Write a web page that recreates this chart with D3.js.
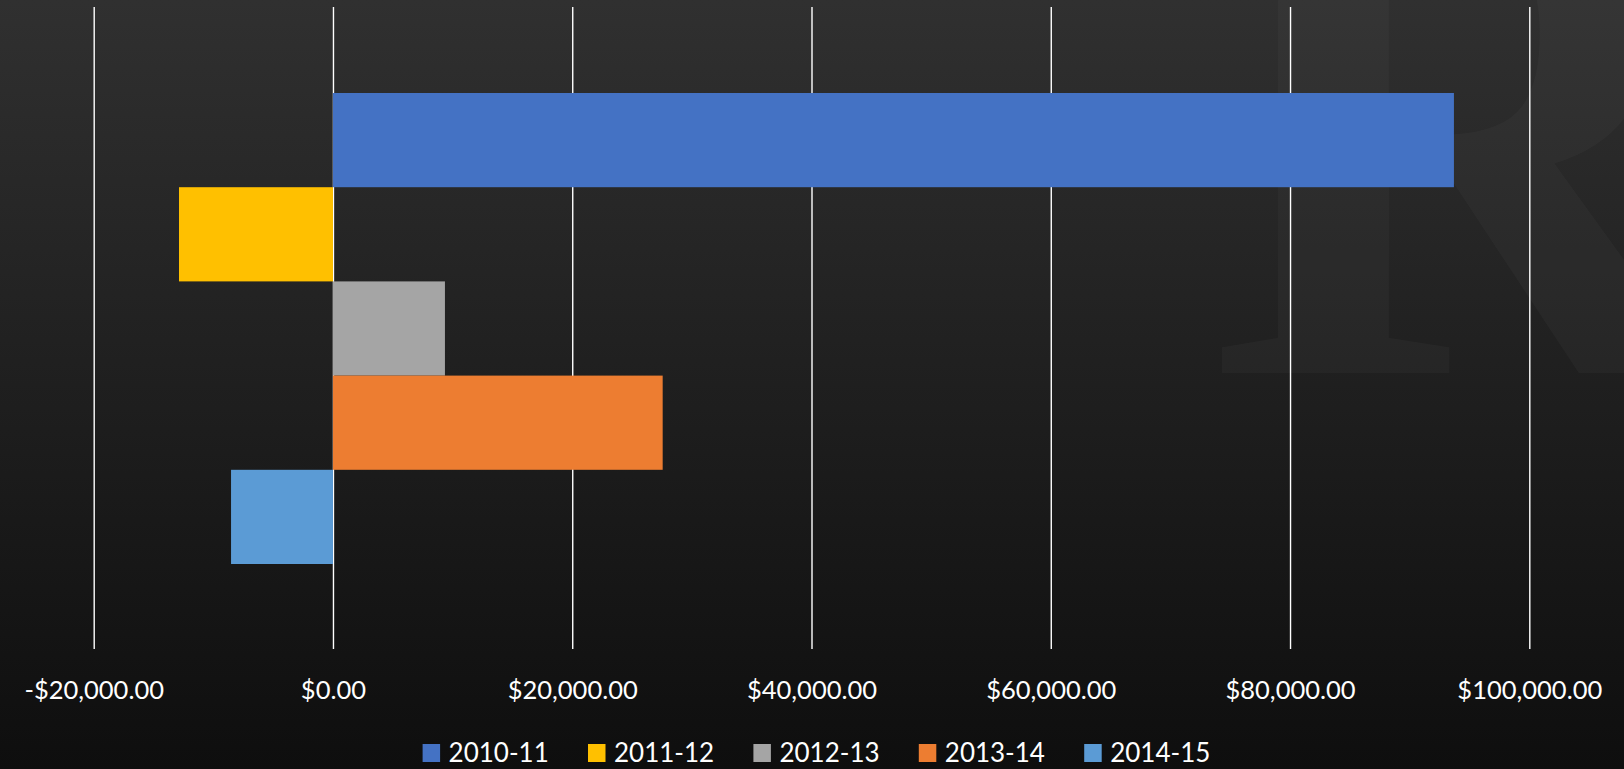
<!DOCTYPE html>
<html>
<head>
<meta charset="utf-8">
<script src="https://cdn.jsdelivr.net/npm/d3@7"></script>
<style>
  html, body { margin: 0; padding: 0; background: #111; }
  svg { display: block; }
</style>
</head>
<body>
<div id="chart"></div>
<script>
// chart data
const seriesNames = ["2010-11", "2011-12", "2012-13", "2013-14", "2014-15"];
const seriesValues = [93700, -12870, 9360, 27560, -8520];
const seriesColors = ["#4472C4", "#FFC000", "#A5A5A5", "#ED7D31", "#5B9BD5"];
const tickValues = [-20000, 0, 20000, 40000, 60000, 80000, 100000];

const W = 1624, H = 769;
const plot = { left: 93.7, right: 1529.3, top: 7, bottom: 649 };

let svg = d3.select("#chart")
    .append("svg")
    .attr("width", W)
    .attr("height", H);

// background gradient
let defs = svg.append("defs");
let grad = defs.append("linearGradient")
    .attr("id", "bg")
    .attr("x1", 0).attr("y1", 0)
    .attr("x2", 0).attr("y2", 1);
grad.append("stop").attr("offset", "0%").attr("stop-color", "#303030");
grad.append("stop").attr("offset", "100%").attr("stop-color", "#0e0e0e");

svg.append("rect")
    .attr("width", W)
    .attr("height", H)
    .attr("fill", "url(#bg)");

// faint watermark letter
svg.append("text")
    .attr("x", 1205)
    .attr("y", 373)
    .attr("font-family", "'Liberation Serif', 'DejaVu Serif', serif")
    .attr("font-weight", "bold")
    .attr("font-size", "720px")
    .attr("fill", "#ffffff")
    .attr("fill-opacity", 0.026)
    .text("R");

// scales
let x = d3.scaleLinear()
    .domain([-20000, 100000])
    .range([plot.left, plot.right]);

let y = d3.scaleBand()
    .domain(seriesNames)
    .range([93, 564]);

const fmtLocale = d3.formatLocale({
    decimal: ".", thousands: ",", grouping: [3], currency: ["$", ""], minus: "-"
});
const fmt = fmtLocale.format("$,.2f");

// x axis with gridlines
let xAxis = svg.append("g")
    .attr("transform", "translate(0," + plot.bottom + ")")
    .call(d3.axisBottom(x)
        .tickValues(tickValues)
        .tickSizeInner(-(plot.bottom - plot.top))
        .tickSizeOuter(0)
        .tickFormat(fmt));

xAxis.select(".domain").remove();
xAxis.selectAll(".tick line")
    .attr("stroke", "#ffffff")
    .attr("stroke-width", 1.4);
xAxis.selectAll(".tick text")
    .attr("y", 41)
    .attr("dy", "0.35em")
    .attr("fill", "#ffffff")
    .attr("font-family", "Lato, 'Open Sans', sans-serif")
    .attr("font-size", "25.5px");

// bars
svg.append("g")
    .selectAll("rect")
    .data(seriesNames)
    .enter()
    .append("rect")
    .attr("x", (d, i) => x(Math.min(0, seriesValues[i])))
    .attr("y", (d) => y(d))
    .attr("width", (d, i) => Math.abs(x(seriesValues[i]) - x(0)))
    .attr("height", y.bandwidth())
    .attr("fill", (d, i) => seriesColors[i]);

// legend
const legStart = 422.6, legStep = 165.4;
let legend = svg.append("g")
    .selectAll("g")
    .data(seriesNames)
    .enter()
    .append("g")
    .attr("transform", (d, i) => "translate(" + (legStart + i * legStep) + ",753)");

legend.append("rect")
    .attr("x", 0)
    .attr("y", -9)
    .attr("width", 17.5)
    .attr("height", 18)
    .attr("fill", (d, i) => seriesColors[i]);

legend.append("text")
    .attr("x", 26)
    .attr("dy", "0.35em")
    .attr("fill", "#ffffff")
    .attr("font-family", "Lato, 'Open Sans', sans-serif")
    .attr("font-size", "26px")
    .text((d) => d);
</script>
</body>
</html>
